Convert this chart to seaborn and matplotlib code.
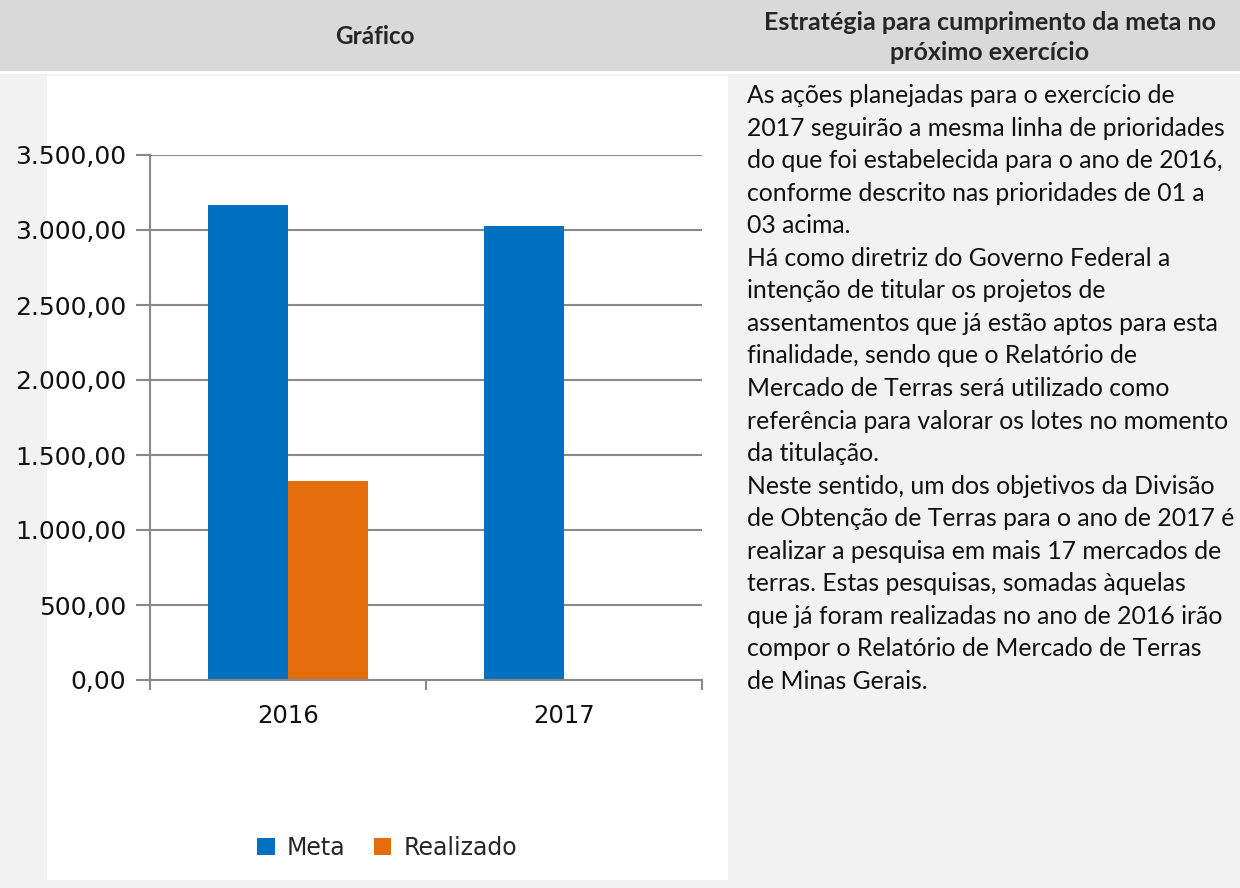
import matplotlib
matplotlib.use("Agg")
import matplotlib.pyplot as plt
from matplotlib.patches import Rectangle
from matplotlib.ticker import FuncFormatter, FixedLocator
import pandas as pd
import seaborn as sns

anos = ["2016", "2017"]
meta = [3165, 3025]
realizado = [1330, 0]
series = ["Meta", "Realizado"]
cores = ["#0070c0", "#e46c0a"]

cabecalho_esq = "Gráfico"
cabecalho_dir = ["Estratégia para cumprimento da meta no", "próximo exercício"]
texto = [
    "As ações planejadas para o exercício de",
    "2017 seguirão a mesma linha de prioridades",
    "do que foi estabelecida para o ano de 2016,",
    "conforme descrito nas prioridades de 01 a",
    "03 acima.",
    "Há como diretriz do Governo Federal a",
    "intenção de titular os projetos de",
    "assentamentos que já estão aptos para esta",
    "finalidade, sendo que o Relatório de",
    "Mercado de Terras será utilizado como",
    "referência para valorar os lotes no momento",
    "da titulação.",
    "Neste sentido, um dos objetivos da Divisão",
    "de Obtenção de Terras para o ano de 2017 é",
    "realizar a pesquisa em mais 17 mercados de",
    "terras. Estas pesquisas, somadas àquelas",
    "que já foram realizadas no ano de 2016 irão",
    "compor o Relatório de Mercado de Terras",
    "de Minas Gerais.",
]

df = pd.DataFrame({
    "ano": anos * 2,
    "valor": meta + realizado,
    "serie": [series[0]] * len(anos) + [series[1]] * len(anos),
})

sns.set_style("white")
plt.rcParams["font.family"] = ["DejaVu Sans"]

W, H = 1240, 888
fig = plt.figure(figsize=(W / 100, H / 100), dpi=100)
fig.patch.set_facecolor("#f2f2f2")


def px_rect(x0, y0, x1, y1, color):
    fig.add_artist(Rectangle((x0 / W, 1 - y1 / H), (x1 - x0) / W, (y1 - y0) / H,
                             transform=fig.transFigure, facecolor=color,
                             edgecolor="none", zorder=-5))


# fundo da tabela
px_rect(0, 0, W, 71, "#d9d9d9")
px_rect(0, 71, W, 74, "#ffffff")
px_rect(47, 76, 728, 880, "#ffffff")

# grafico
ax = fig.add_axes([150 / W, 1 - 680 / H, 552 / W, 525 / H])
sns.barplot(data=df, x="ano", y="valor", hue="serie", palette=cores,
            width=0.58, saturation=1, linewidth=0, ax=ax)
ax.set_xlim(-0.5, 1.5)
ax.set_ylim(0, 3500)
ax.set_yticks([0, 500, 1000, 1500, 2000, 2500, 3000, 3500])
ax.yaxis.set_major_formatter(FuncFormatter(
    lambda v, p: f"{v:,.2f}".replace(",", "X").replace(".", ",").replace("X", ".")))
ax.set_xlabel("")
ax.set_ylabel("")
ax.grid(axis="y", color="#898989", linewidth=1.5)
ax.set_axisbelow(True)
for s in ["top", "right"]:
    ax.spines[s].set_visible(False)
for s in ["left", "bottom"]:
    ax.spines[s].set_color("#898989")
    ax.spines[s].set_linewidth(1.5)
ax.tick_params(axis="y", length=10, width=1.5, color="#898989", labelsize=18,
               labelcolor="#111111", pad=7, left=True)
ax.tick_params(axis="x", which="major", length=0, labelsize=17.5, labelcolor="#111111", pad=17)
ax.xaxis.set_minor_locator(FixedLocator([-0.5, 0.5, 1.5]))
ax.tick_params(axis="x", which="minor", length=7.5, width=1.5, color="#898989", bottom=True)
ax.set_facecolor("white")

sns.move_legend(ax, loc="center", bbox_to_anchor=(387 / W, 1 - 848 / H),
                bbox_transform=fig.transFigure, ncol=2, frameon=False, title=None,
                fontsize=17, handlelength=0.75, handleheight=0.75, columnspacing=1.2,
                handletextpad=0.5)

# cabecalho
fig.text(375 / W, 1 - 37 / H, cabecalho_esq, ha="center", va="center",
         fontsize=17.5, fontweight="bold", family="Lato")
for i, linha in enumerate(cabecalho_dir):
    fig.text(990 / W, 1 - (22 + 30 * i) / H, linha, ha="center", va="center",
             fontsize=18, fontweight="bold", family="Lato")

# texto da coluna direita
for i, linha in enumerate(texto):
    fig.text(747 / W, 1 - (103 + 32.55 * i) / H, linha, ha="left", va="baseline",
             fontsize=17.8, family="Lato", color="#111111")

fig.savefig("out.png", dpi=100, facecolor=fig.get_facecolor())
